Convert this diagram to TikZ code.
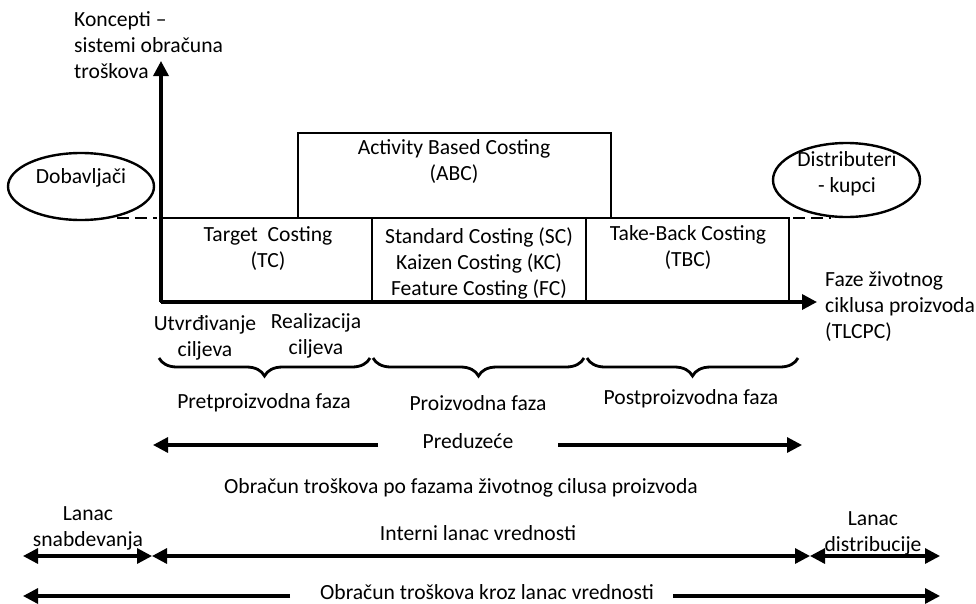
\documentclass[tikz,border=0pt]{standalone}
\usepackage{fontspec}
\setmainfont{Carlito}
\usetikzlibrary{arrows.meta,shapes.geometric,decorations.pathreplacing}
\begin{document}
\begin{tikzpicture}[x=1pt,y=-1pt,
  txt/.style={inner sep=0pt, align=center, font=\fontsize{21.6}{26}\selectfont},
  box/.style={draw, line width=2.6pt, inner sep=0pt},
  ax/.style={line width=3.4pt, -{Triangle[length=15pt,width=15pt]}},
  onearr/.style={line width=3.2pt, -{Triangle[length=15pt,width=15pt]}},
  dbl/.style={line width=3.2pt, {Triangle[length=15pt,width=15pt]}-{Triangle[length=15pt,width=15pt]}},
  brc/.style={decorate, decoration={brace, mirror, amplitude=18pt}, line width=2.8pt},
  dsh/.style={line width=2.8pt, dash pattern=on 12pt off 6pt},
  ell/.style={draw, ellipse, line width=2.4pt, inner sep=0pt}
]
\useasboundingbox (0,0) rectangle (976,603);

% boxes
\node[box, minimum width=313pt, minimum height=85pt] (abc) at (454.5,175.5) {};
\node[box, minimum width=211pt, minimum height=84pt] (tc) at (266.5,260) {};
\node[box, minimum width=214pt, minimum height=84pt] (sc) at (479,260) {};
\node[box, minimum width=203pt, minimum height=84pt] (tbc) at (687.5,260) {};

\node[txt] (abct) at (454,161.5) {Activity Based Costing\\(ABC)};
\node[txt] (tct) at (268,248.5) {Target~~Costing\\(TC)};
\node[txt] (sct) at (479,263) {Standard Costing (SC)\\Kaizen Costing (KC)\\Feature Costing (FC)};
\node[txt] (tbct) at (688,247.5) {Take-Back Costing\\(TBC)};

% axes
\coordinate (o) at (161,302);
\coordinate (ytip) at (161,61);
\coordinate (xtip) at (817,302);
\draw[ax] (o) -- (ytip);
\draw[ax] (o) -- (xtip);

\node[txt, align=left, anchor=west] (ylab) at (74,45) {Koncepti --\\sistemi obračuna\\troškova};
\node[txt, align=left, anchor=west] (xlab) at (825,307) {Faze životnog\\ciklusa proizvoda\\(TLCPC)};

% ellipses
\node[ell, minimum width=146pt, minimum height=67pt] (dob) at (81,186.5) {};
\node[txt] (dobt) at (81,178) {Dobavljači};
\node[ell, minimum width=147pt, minimum height=74pt] (dis) at (846.5,180) {};
\node[txt] (dist) at (847,173.5) {Distributeri\\- kupci};

\coordinate (dl1) at (117,218);
\coordinate (dl2) at (157,218);
\coordinate (dr1) at (793,218);
\coordinate (dr2) at (831,218);
\draw[dsh] (dl1) -- (dl2);
\draw[dsh] (dr1) -- (dr2);

% sub-labels
\node[txt] (utv) at (205,337.5) {Utvrđivanje\\ciljeva};
\node[txt] (rea) at (316,336) {Realizacija\\ciljeva};

% braces
\coordinate (b1a) at (159,358);
\coordinate (b1b) at (370,358);
\coordinate (b2a) at (373,358);
\coordinate (b2b) at (584,358);
\coordinate (b3a) at (587,358);
\coordinate (b3b) at (798,358);
\draw[brc] (b1a) -- (b1b);
\draw[brc] (b2a) -- (b2b);
\draw[brc] (b3a) -- (b3b);

\node[txt] (pre) at (264,403) {Pretproizvodna faza};
\node[txt] (pro) at (478,403) {Proizvodna faza};
\node[txt] (post) at (691,399) {Postproizvodna faza};

% Preduzece
\node[txt] (pred) at (468,441) {Preduzeće};
\coordinate (pl1) at (378,445);
\coordinate (pl2) at (153,445);
\coordinate (pr1) at (558,445);
\coordinate (pr2) at (802,445);
\draw[onearr] (pl1) -- (pl2);
\draw[onearr] (pr1) -- (pr2);

\node[txt] (obr1) at (461,488) {Obračun troškova po fazama životnog cilusa proizvoda};

% value chain
\node[txt] (lsn) at (88,528.5) {Lanac\\snabdevanja};
\node[txt] (int) at (478,533) {Interni lanac vrednosti};
\node[txt] (ldi) at (873,533.5) {Lanac\\distribucije};
\coordinate (v0) at (23,556);
\coordinate (v1) at (152,556);
\coordinate (v2) at (810,556);
\coordinate (v3) at (940,556);
\draw[dbl] (v0) -- (v1);
\draw[dbl] (v1) -- (v2);
\draw[dbl] (v2) -- (v3);

\node[txt] (obr2) at (487,592) {Obračun troškova kroz lanac vrednosti};
\coordinate (w0) at (290,596);
\coordinate (w1) at (23,596);
\coordinate (w2) at (673,596);
\coordinate (w3) at (940,596);
\draw[onearr] (w0) -- (w1);
\draw[onearr] (w2) -- (w3);
\end{tikzpicture}
\end{document}
